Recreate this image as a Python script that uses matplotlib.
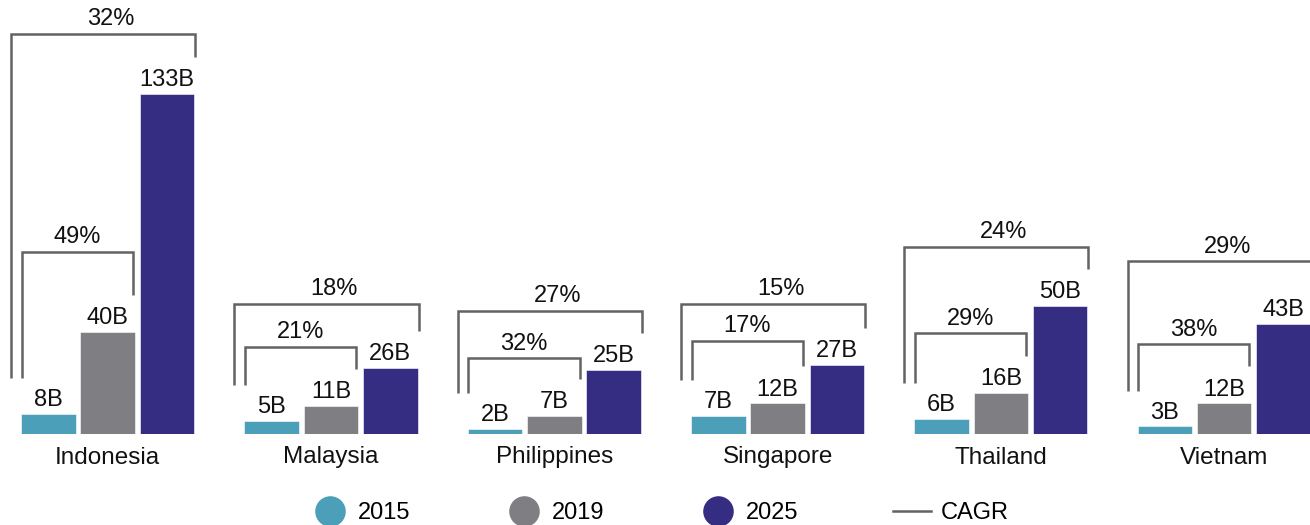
import matplotlib.pyplot as plt
from matplotlib.lines import Line2D
import numpy as np

plt.rcParams["font.family"] = ["Liberation Sans", "DejaVu Sans"]

countries = ["Indonesia", "Malaysia", "Philippines", "Singapore", "Thailand", "Vietnam"]
years = ["2015", "2019", "2025"]
v2015 = [8, 5, 2, 7, 6, 3]
v2019 = [40, 11, 7, 12, 16, 12]
v2025 = [133, 26, 25, 27, 50, 43]
cagr_15_19 = ["49%", "21%", "32%", "17%", "29%", "38%"]
cagr_15_25 = ["32%", "18%", "27%", "15%", "24%", "29%"]
# bracket levels (billions)
inner_top = [71.3, 34.2, 29.6, 36.5, 39.4, 35.2]
outer_top = [156.6, 50.9, 48.3, 50.9, 73.3, 67.7]

colors = ["#4c9fb8", "#7f7f83", "#342d82"]
bracket_color = "#636363"
px = 1 / 223.3  # one pixel in group units

fig = plt.figure(figsize=(13.1, 5.25), dpi=100)
ax = fig.add_axes([0, 91 / 525, 1, 434 / 525])

x = np.arange(len(countries))
step = 59.3 * px
width = 54.5 * px
series = [v2015, v2019, v2025]
for i, vals in enumerate(series):
    xs = x + (i - 1) * step
    ax.bar(xs, vals, width=width, color=colors[i], edgecolor="white", linewidth=0.4)
    for xi, v in zip(xs, vals):
        ax.annotate(f"{v}B", (xi, v), xytext=(0, 2), textcoords="offset points",
                    ha="center", va="bottom", fontsize=17, color="#111111")

gap = 14.5
for i in range(len(countries)):
    left15 = x[i] - step - width / 2
    right19 = x[i] + width / 2 - 2 * px
    right25 = x[i] + step + width / 2 + 1 * px
    low = v2015[i] + gap - 0.5
    # 2015 -> 2019 bracket
    t = inner_top[i]
    ax.plot([left15 + 0.5 * px, left15 + 0.5 * px, right19, right19],
            [low, t, t, v2019[i] + gap], color=bracket_color, lw=1.8,
            solid_joinstyle="miter", solid_capstyle="butt")
    ax.annotate(cagr_15_19[i], ((left15 + right19) / 2, t), xytext=(0, 2.5),
                textcoords="offset points", ha="center", va="bottom",
                fontsize=17, color="#111111")
    # 2015 -> 2025 bracket
    t = outer_top[i]
    ol = left15 - 10 * px
    ax.plot([ol, ol, right25, right25],
            [low, t, t, v2025[i] + gap], color=bracket_color, lw=1.8,
            solid_joinstyle="miter", solid_capstyle="butt")
    ax.annotate(cagr_15_25[i], (x[i] + 3 * px, t), xytext=(0, 2.5),
                textcoords="offset points", ha="center", va="bottom",
                fontsize=17, color="#111111")

ax.set_xlim(-107.7 * px, (1310 - 107.7) * px)
ax.set_ylim(0, 434 / 2.555)
ax.set_xticks(x)
ax.set_xticklabels(countries, fontsize=17.5, color="#111111")
ax.tick_params(axis="x", length=0, pad=9)
ax.set_yticks([])
for s in ax.spines.values():
    s.set_visible(False)

handles = [Line2D([], [], marker="o", linestyle="none", markersize=21,
                  markerfacecolor=c, markeredgecolor=c) for c in colors]
handles.append(Line2D([], [], color=bracket_color, lw=1.8))
fig.legend(handles, years + ["CAGR"], loc="center", bbox_to_anchor=(0.5035, 0.0229),
           ncol=4, frameon=False, fontsize=17, handlelength=1.6,
           handletextpad=0.4, columnspacing=4.0)

fig.savefig("out.png", dpi=100)
